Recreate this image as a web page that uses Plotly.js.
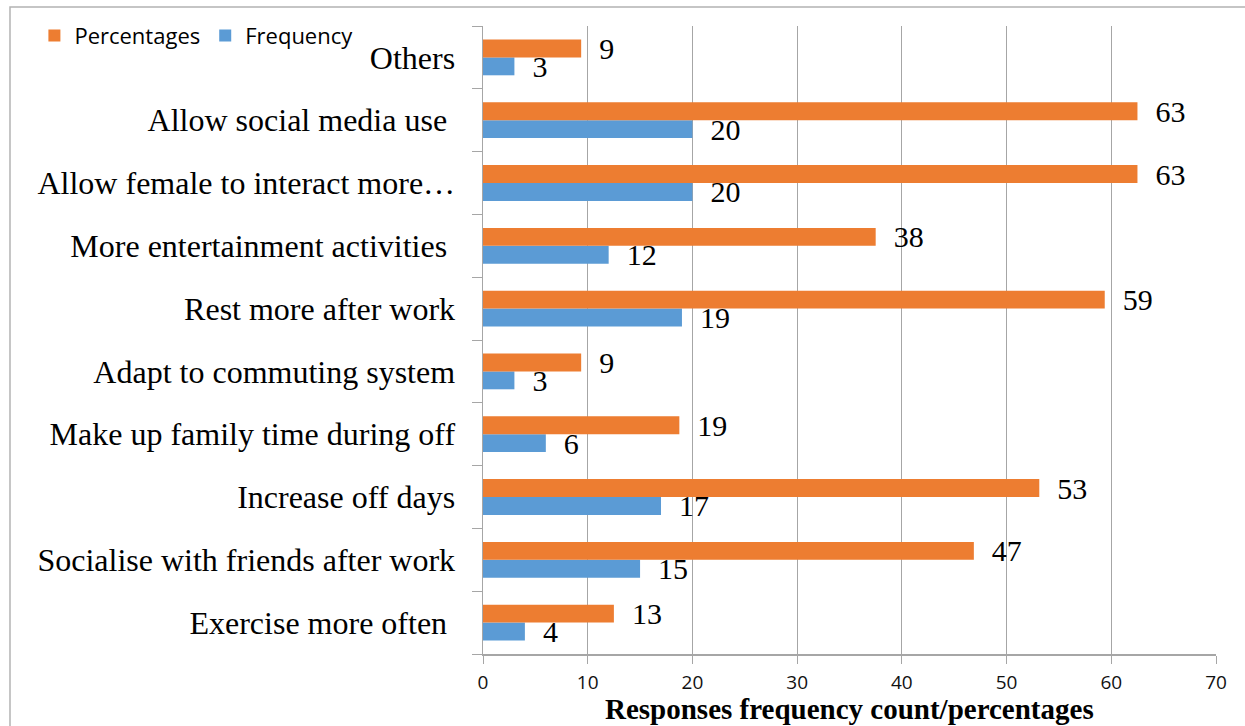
<!DOCTYPE html>
<html>
<head>
<meta charset="utf-8">
<script src="https://cdn.plot.ly/plotly-3.0.1.min.js"></script>
<style>html,body{margin:0;padding:0;background:#fff;}#chart{width:1245px;height:726px;}</style>
</head>
<body>
<div id="chart"></div>
<script>
// Categories, bottom to top
const categories = [
  "Exercise more often\u00a0",
  "Socialise with friends after work",
  "Increase off days",
  "Make up family time during off",
  "Adapt to commuting system",
  "Rest more after work",
  "More entertainment activities\u00a0",
  "Allow female to interact more\u2026",
  "Allow social media use\u00a0",
  "Others"
];
const frequency = [4, 15, 17, 6, 3, 19, 12, 20, 20, 3];
const percentages = [12.5, 46.875, 53.125, 18.75, 9.375, 59.375, 37.5, 62.5, 62.5, 9.375];
const xTicks = [0, 10, 20, 30, 40, 50, 60, 70];
const xTitle = "Responses frequency count/percentages";

const serif = "Liberation Serif, Times New Roman, serif";
const sans = "Open Sans, Arial, sans-serif";
const labelFont = {family: serif, size: 30, color: "#000"};

const traces = [
  {
    type: "bar", orientation: "h", name: "Frequency",
    y: categories, x: frequency,
    marker: {color: "#5B9BD5"},
    texttemplate: "\u00a0\u00a0%{x:.0f}", textposition: "outside",
    textfont: labelFont, constraintext: "none", cliponaxis: false,
    hoverinfo: "skip"
  },
  {
    type: "bar", orientation: "h", name: "Percentages",
    y: categories, x: percentages,
    marker: {color: "#ED7D31"},
    texttemplate: "\u00a0\u00a0%{x:.0f}", textposition: "outside",
    textfont: labelFont, constraintext: "none", cliponaxis: false,
    hoverinfo: "skip"
  }
];

const layout = {
  width: 1245, height: 726,
  margin: {l: 483, r: 29, t: 26, b: 72},
  paper_bgcolor: "#fff", plot_bgcolor: "#fff",
  barmode: "group", bargap: 0.43, bargroupgap: 0,
  showlegend: true,
  legend: {
    orientation: "h", traceorder: "reversed",
    x: -0.612, xanchor: "left", y: 1.018, yanchor: "top",
    font: {family: sans, size: 22, color: "#000"},
    bgcolor: "rgba(0,0,0,0)"
  },
  xaxis: {
    range: [0, 70], tickvals: xTicks, ticktext: xTicks.map(String),
    showgrid: true, gridcolor: "#a6a6a6", gridwidth: 1,
    showline: true, linecolor: "#a6a6a6", linewidth: 1.5,
    ticks: "outside", ticklen: 8, tickcolor: "#a6a6a6",
    tickfont: {family: sans, size: 19, color: "#111"},
    ticklabelstandoff: 3,
    zeroline: false, fixedrange: true
  },
  yaxis: {
    type: "category", categoryorder: "array", categoryarray: categories,
    showgrid: false, showline: true, linecolor: "#a6a6a6", linewidth: 1.5,
    ticks: "outside", ticklen: 10, tickcolor: "#a6a6a6", tickson: "boundaries",
    tickfont: {family: serif, size: 32, color: "#000"},
    ticklabelstandoff: 20,
    fixedrange: true
  },
  annotations: [{
    text: xTitle, xref: "paper", yref: "paper", x: 0.5, y: -0.088,
    xanchor: "center", yanchor: "middle", showarrow: false,
    font: {family: serif, size: 29, color: "#000", weight: "bold"}
  }],
  shapes: [{
    type: "rect", xref: "paper", yref: "paper",
    x0: -0.6453, x1: 1.1, y0: -0.2, y1: 1.0303,
    line: {color: "#b3b3b3", width: 1.5}, fillcolor: "rgba(0,0,0,0)", layer: "below"
  }]
};

Plotly.newPlot("chart", traces, layout, {staticPlot: true, displayModeBar: false});
</script>
</body>
</html>
